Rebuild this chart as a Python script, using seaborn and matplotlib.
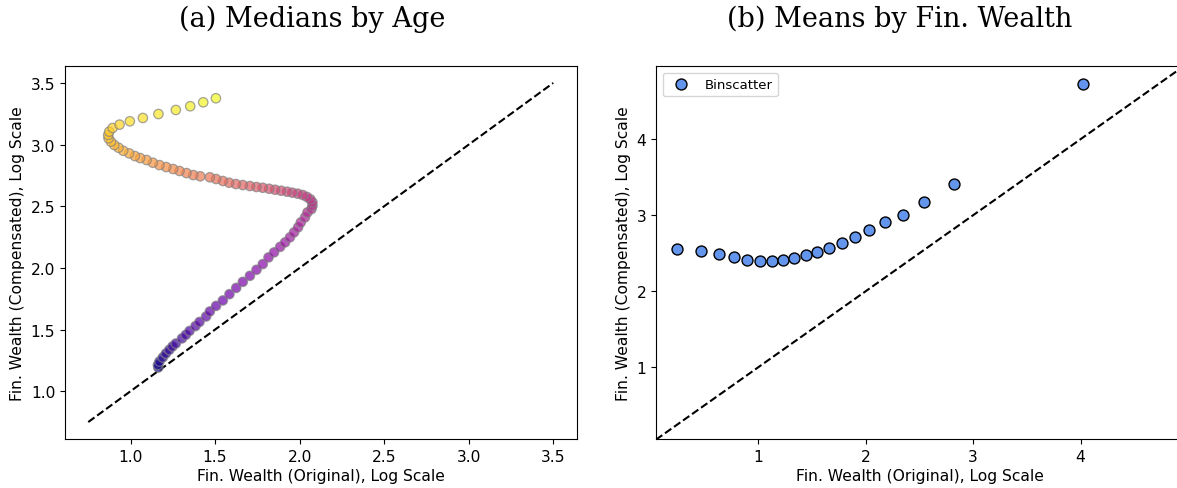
import numpy as np
import pandas as pd
import matplotlib
matplotlib.use("Agg")
import matplotlib.pyplot as plt
import seaborn as sns

# ---------------- data ----------------
# Panel (a): medians by age (ordered young -> old)
age_x = [1.164, 1.162, 1.171, 1.191, 1.209, 1.229, 1.248, 1.268, 1.304, 1.327,
         1.349, 1.384, 1.408, 1.447, 1.469, 1.506, 1.546, 1.585, 1.625, 1.664,
         1.706, 1.745, 1.782, 1.816, 1.849, 1.885, 1.914, 1.943, 1.967, 1.991,
         2.007, 2.032, 2.046, 2.070, 2.076, 2.076, 2.064, 2.044, 2.019, 1.989,
         1.957, 1.926, 1.891, 1.855, 1.820, 1.782, 1.745, 1.706, 1.664, 1.623,
         1.583, 1.546, 1.506, 1.469, 1.412, 1.371, 1.331, 1.290, 1.252, 1.211,
         1.171, 1.132, 1.095, 1.057, 1.026, 0.992, 0.957, 0.929, 0.904, 0.884,
         0.870, 0.868, 0.874, 0.894, 0.935, 0.996, 1.073, 1.165, 1.268, 1.353,
         1.430, 1.505]
age_y = [1.192, 1.213, 1.241, 1.274, 1.306, 1.335, 1.363, 1.387, 1.428, 1.457,
         1.489, 1.528, 1.562, 1.606, 1.647, 1.692, 1.736, 1.787, 1.838, 1.887,
         1.936, 1.985, 2.031, 2.085, 2.126, 2.171, 2.207, 2.248, 2.288, 2.329,
         2.369, 2.410, 2.450, 2.477, 2.504, 2.532, 2.556, 2.575, 2.591, 2.602,
         2.610, 2.618, 2.626, 2.634, 2.642, 2.650, 2.656, 2.664, 2.672, 2.680,
         2.691, 2.705, 2.721, 2.735, 2.743, 2.753, 2.769, 2.786, 2.802, 2.818,
         2.834, 2.853, 2.875, 2.891, 2.907, 2.929, 2.950, 2.975, 2.997, 3.024,
         3.051, 3.078, 3.105, 3.135, 3.162, 3.189, 3.216, 3.248, 3.281, 3.311,
         3.343, 3.376]
age_idx = list(range(len(age_x)))

# Panel (b): binscatter of means by financial wealth
bin_x = [0.241, 0.467, 0.632, 0.777, 0.895, 1.016, 1.127, 1.233, 1.335, 1.441,
         1.552, 1.664, 1.776, 1.902, 2.033, 2.176, 2.345, 2.543, 2.820, 4.018]
bin_y = [2.555, 2.524, 2.493, 2.453, 2.414, 2.401, 2.401, 2.414, 2.436, 2.476,
         2.520, 2.568, 2.638, 2.716, 2.804, 2.905, 3.008, 3.176, 3.417, 4.723]

left_diag = [0.75, 3.5]
left_ticks = [1.0, 1.5, 2.0, 2.5, 3.0, 3.5]
right_lim = [0.05, 4.962]
right_ticks = [1, 2, 3, 4]

titles = ["(a) Medians by Age", "(b) Means by Fin. Wealth"]
xlabel = "Fin. Wealth (Original), Log Scale"
ylabel = "Fin. Wealth (Compensated), Log Scale"

# ---------------- figure ----------------
plt.rcParams["font.family"] = ["DejaVu Sans"]
fig = plt.figure(figsize=(11.77, 4.89), dpi=100)
W, H = 1177, 489

def ax_at(x0, y0, x1, y1):
    return fig.add_axes([x0 / W, 1 - y1 / H, (x1 - x0) / W, (y1 - y0) / H])

axL = ax_at(65, 67, 576.5, 440)
axR = ax_at(656, 67, 1184, 440)

# Left panel
dfA = pd.DataFrame({"x": age_x, "y": age_y, "age": age_idx})
axL.plot(left_diag, left_diag, ls="--", color="black", lw=1.5, zorder=1)
sns.scatterplot(data=dfA, x="x", y="y", hue="age", palette="plasma",
                s=46, alpha=0.7, edgecolor="grey", linewidth=0.9,
                legend=False, ax=axL, zorder=2)
axL.set_xlim(0.6125, 3.6375)
axL.set_ylim(0.6125, 3.6375)
axL.set_xticks(left_ticks)
axL.set_yticks(left_ticks)
axL.set_xlabel(xlabel, fontsize=11.2, labelpad=3)
axL.set_ylabel(ylabel, fontsize=11.2)

# Right panel
dfB = pd.DataFrame({"x": bin_x, "y": bin_y})
axR.plot(right_lim, right_lim, ls="--", color="black", lw=1.5, zorder=1)
sns.scatterplot(data=dfB, x="x", y="y", color="cornflowerblue",
                s=62, edgecolor="black", linewidth=1.0,
                label="Binscatter", ax=axR, zorder=2)
axR.set_xlim(right_lim)
axR.set_ylim(0.058, right_lim[1])
axR.set_xticks(right_ticks)
axR.set_yticks(right_ticks)
axR.set_xlabel(xlabel, fontsize=11.2, labelpad=3)
axR.set_ylabel(ylabel, fontsize=11.2)
axR.legend(loc="upper left", fontsize=9.5, frameon=True)

for ax in (axL, axR):
    ax.tick_params(labelsize=11.2)

fig.text(312 / W, 1 - 19 / H, titles[0], ha="center", va="center",
         fontsize=19.5, family=["DejaVu Serif"])
fig.text(900 / W, 1 - 19 / H, titles[1], ha="center", va="center",
         fontsize=19.5, family=["DejaVu Serif"])

fig.savefig("out.png", dpi=100)
